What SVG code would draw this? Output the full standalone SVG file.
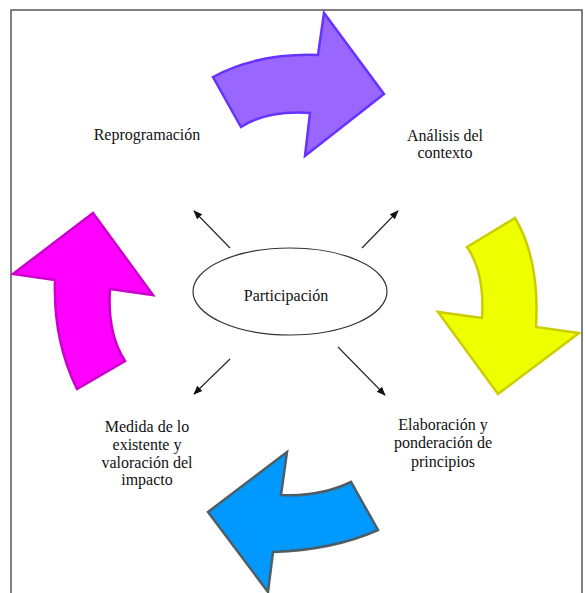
<svg xmlns="http://www.w3.org/2000/svg" width="585" height="593" viewBox="0 0 585 593">
<defs>
<style>
.t{font-family:"Liberation Serif","Times New Roman",serif;font-size:16px;fill:#111;text-anchor:middle}
.c{stroke:#222;stroke-width:1.1;fill:none;marker-end:url(#ah)}
.big{stroke-width:2.5;stroke-linejoin:miter}
</style>
<marker id="ah" viewBox="0 0 10 10" refX="9" refY="5" markerWidth="9" markerHeight="9" markerUnits="userSpaceOnUse" orient="auto">
<path d="M0,1 L10,5 L0,9 Z" fill="#111"/>
</marker>
</defs>
<rect x="0" y="0" width="585" height="593" fill="#fff"/>
<rect x="11" y="10" width="571" height="600" fill="none" stroke="#555" stroke-width="1.5"/>
<g id="arrow-purple">
<path class="big" d="M213,77 Q257,53 318,55 L324,13 L384,94 L305,156 L310,113 Q267,110 241,127 Z" fill="#9966ff" stroke="#6633ff"/>
</g>
<g id="arrow-yellow">
<path class="big" d="M467,247 L515,218 Q540,260 536,327 L579,333 L498,394 L438,312 L482,318 Q485,273 467,247 Z" fill="#eeff00" stroke="#cccc00"/>
</g>
<g id="arrow-blue">
<path class="big" d="M351,482 Q320,497 281,495 L287,452 L208,512 L268,592 L273,552 Q333,550 378,530 Z" fill="#0099ff" stroke="#4d5e66"/>
</g>
<g id="arrow-magenta">
<path class="big" d="M77,389 Q53,340 55,280 L13,274 L93,213 L153,295 L110,289 Q107,333 125,361 Z" fill="#ff00ff" stroke="#cc00cc"/>
</g>
<g id="center">
<ellipse cx="290" cy="291.5" rx="97" ry="43.5" fill="#fff" stroke="#333" stroke-width="1.2"/>
<text class="t" x="286" y="301">Participación</text>
</g>
<g id="connectors">
<line class="c" x1="230" y1="248" x2="194" y2="211"/>
<line class="c" x1="362" y1="248" x2="398" y2="211"/>
<line class="c" x1="230" y1="359" x2="194" y2="394"/>
<line class="c" x1="338" y1="347" x2="385" y2="395"/>
</g>
<g id="n-reprogramacion"><text class="t" x="147" y="140">Reprogramación</text></g>
<g id="n-analisis"><text class="t" x="445" y="141">Análisis del</text><text class="t" x="445" y="158">contexto</text></g>
<g id="n-elaboracion"><text class="t" x="443" y="430">Elaboración y</text><text class="t" x="443" y="448">ponderación de</text><text class="t" x="443" y="467">principios</text></g>
<g id="n-medida"><text class="t" x="147" y="432">Medida de lo</text><text class="t" x="147" y="450">existente y</text><text class="t" x="147" y="468">valoración del</text><text class="t" x="147" y="485">impacto</text></g>
</svg>
